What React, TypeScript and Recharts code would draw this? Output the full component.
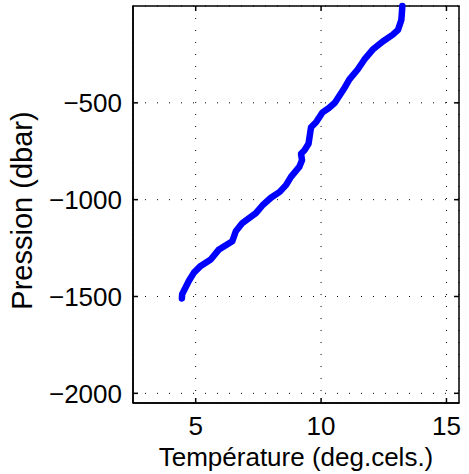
import * as R from "recharts";
import { LineChart, Line, XAxis, YAxis, CartesianGrid } from "recharts";

// temperature (deg C), top to bottom
const temperature = [
  13.24, 13.22, 13.2, 13.07, 12.86, 12.46, 12.06, 11.73, 11.46, 11.13,
  10.9, 10.73, 10.55, 10.3, 10.06, 9.93, 9.8, 9.6, 9.56, 9.5,
  9.33, 9.2, 9.24, 9.13, 8.8, 8.6, 8.35, 8.0, 7.66, 7.4,
  6.86, 6.6, 6.46, 5.93, 5.6, 5.2, 4.93, 4.73, 4.46, 4.45,
];
// pressure (dbar), negative downward
const pressure = [
  0, -40, -72, -123, -148, -183, -225, -276, -328, -379,
  -430, -464, -500, -528, -549, -575, -600, -626, -660, -711,
  -746, -763, -797, -831, -882, -925, -960, -990, -1030, -1070,
  -1121, -1163, -1215, -1257, -1309, -1342, -1377, -1419, -1488, -1510,
];
const xTicks = [5, 10, 15];
const yTicks = [-2000, -1500, -1000, -500];
const xDomain: [number, number] = [2.5, 15.5];
const yDomain: [number, number] = [-2050, 0];

const data = temperature.map((t, i) => ({ t, p: pressure[i] }));

const FONT = "'Liberation Sans', Arial, Helvetica, sans-serif";
const fmt = (v: number) => (v < 0 ? "\u2212" + Math.abs(v) : String(v));

const usePlotArea: any = (R as any).usePlotArea || (() => null);

// box around the plot with inward ticks on the top and right edges
function Frame() {
  const area = usePlotArea();
  if (!area) return null;
  const { x, y, width, height } = area;
  const sx = (t: number) => x + ((t - xDomain[0]) / (xDomain[1] - xDomain[0])) * width;
  const sy = (v: number) => y + ((yDomain[1] - v) / (yDomain[1] - yDomain[0])) * height;
  return (
    <g>
      <rect x={x} y={y} width={width} height={height} fill="none" stroke="#000" strokeWidth={1.5} />
      {xTicks.map((t) => (
        <line key={"t" + t} x1={sx(t)} y1={y} x2={sx(t)} y2={y + 5} stroke="#000" strokeWidth={1.5} />
      ))}
      {yTicks.map((v) => (
        <line key={"r" + v} x1={x + width} y1={sy(v)} x2={x + width - 5} y2={sy(v)} stroke="#000" strokeWidth={1.5} />
      ))}
    </g>
  );
}

const BottomTick = (props: any) => {
  const { x, y, payload } = props;
  return (
    <g>
      <line x1={x} y1={y} x2={x} y2={y - 5} stroke="#000" strokeWidth={1.5} />
      <text x={x} y={y + 32} textAnchor="middle" fontSize={26} fontFamily={FONT} fill="#000">
        {fmt(payload.value)}
      </text>
    </g>
  );
};

const LeftTick = (props: any) => {
  const { x, y, payload } = props;
  return (
    <g>
      <line x1={x} y1={y} x2={x + 5} y2={y} stroke="#000" strokeWidth={1.5} />
      <text x={x - 11} y={y} dy="0.36em" textAnchor="end" fontSize={26} fontFamily={FONT} fill="#000">
        {fmt(payload.value)}
      </text>
    </g>
  );
};

export default function App() {
  return (
    <div style={{ position: "absolute", left: 0, top: 0, background: "#fff" }}>
      <LineChart width={469} height={474} data={data} margin={{ top: 6, right: 10, left: 0, bottom: 0 }}>
        <CartesianGrid stroke="#000" strokeDasharray="1 11" strokeWidth={1} />
        <XAxis
          dataKey="t"
          type="number"
          domain={xDomain}
          ticks={xTicks}
          height={71}
          tickSize={0}
          tickMargin={0}
          axisLine={{ stroke: "#000", strokeWidth: 1.5 }}
          tickLine={false}
          tick={<BottomTick />}
          label={{
            content: ({ viewBox }: any) => (
              <text
                x={viewBox.x + viewBox.width / 2}
                y={466}
                textAnchor="middle"
                fontSize={26}
                fontFamily={FONT}
                fill="#000"
              >
                Température (deg.cels.)
              </text>
            ),
          }}
        />
        <YAxis
          dataKey="p"
          type="number"
          domain={yDomain}
          ticks={yTicks}
          width={133}
          tickSize={0}
          tickMargin={0}
          axisLine={{ stroke: "#000", strokeWidth: 1.5 }}
          tickLine={false}
          tick={<LeftTick />}
          label={{
            content: ({ viewBox }: any) => {
              const cy = viewBox.y + viewBox.height / 2 + 6;
              return (
                <text
                  x={32}
                  y={cy}
                  transform={`rotate(-90, 32, ${cy})`}
                  textAnchor="middle"
                  fontSize={29}
                  fontFamily={FONT}
                  fill="#000"
                >
                  Pression (dbar)
                </text>
              );
            },
          }}
        />
        <Line
          dataKey="p"
          type="linear"
          stroke="#0000ff"
          strokeWidth={6.5}
          strokeLinecap="round"
          strokeLinejoin="round"
          dot={false}
          isAnimationActive={false}
        />
        <Frame />
      </LineChart>
    </div>
  );
}
